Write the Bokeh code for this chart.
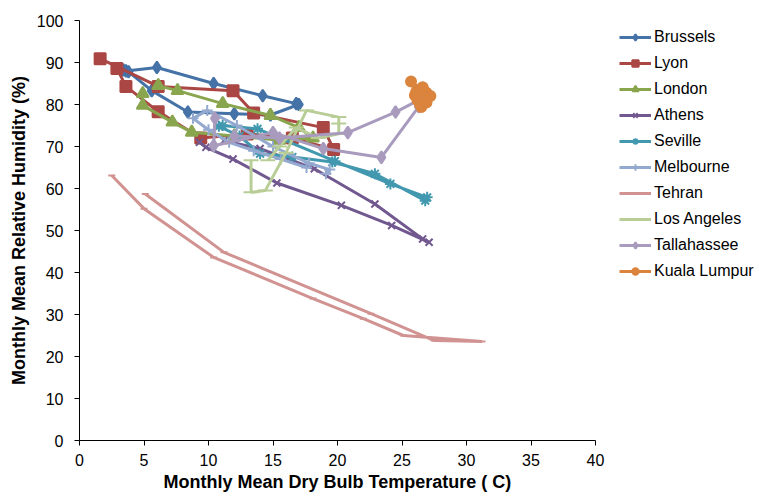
from bokeh.plotting import figure
from bokeh.models import Legend, LegendItem, Range1d, FixedTicker, Title
from bokeh.embed import file_html
from bokeh.resources import INLINE

# Monthly mean dry bulb temperature (C) and relative humidity (%), Jan..Dec
brussels_t = [3.4, 3.8, 5.6, 8.4, 12.0, 14.8, 17.0, 16.8, 14.2, 10.4, 6.0, 3.6]
brussels_rh = [88.2, 87.8, 83.3, 78.2, 77.8, 77.5, 80.0, 80.2, 82.1, 85.0, 88.8, 88.0]

lyon_t = [2.9, 3.6, 6.1, 9.4, 13.0, 16.5, 19.7, 18.9, 13.5, 11.9, 6.1, 1.6]
lyon_rh = [88.6, 84.3, 78.3, 72.0, 73.0, 72.0, 69.3, 74.5, 78.0, 83.3, 84.3, 90.9]

london_t = [4.9, 4.9, 7.2, 8.7, 12.0, 15.5, 18.1, 17.0, 14.8, 11.1, 7.6, 6.1]
london_rh = [82.6, 79.8, 75.8, 73.4, 72.5, 71.5, 72.0, 74.5, 77.4, 80.2, 83.3, 84.5]

athens_t = [9.3, 9.8, 11.9, 15.3, 20.3, 24.2, 27.1, 26.6, 22.9, 18.2, 14.0, 11.2]
athens_rh = [71.0, 69.8, 67.0, 61.3, 56.0, 51.2, 47.2, 48.0, 56.3, 64.7, 69.5, 71.4]

seville_t = [10.8, 12.4, 14.0, 16.5, 19.6, 22.9, 26.8, 26.95, 24.1, 19.8, 13.8, 11.1]
seville_rh = [74.8, 72.5, 68.3, 67.5, 66.3, 63.5, 57.1, 57.9, 61.1, 66.5, 74.2, 75.0]

melbourne_t = [19.1, 19.4, 17.8, 15.0, 12.2, 9.9, 8.8, 10.0, 11.6, 13.5, 15.6, 17.6]
melbourne_rh = [63.5, 64.5, 66.0, 70.0, 75.0, 78.6, 76.7, 74.0, 71.0, 69.0, 67.0, 65.0]

tehran_t = [2.5, 5.0, 10.4, 18.1, 22.0, 25.1, 31.2, 29.5, 27.5, 22.6, 11.2, 5.1]
tehran_rh = [63.1, 55.2, 43.6, 33.8, 29.0, 25.0, 23.6, 23.7, 23.8, 30.2, 44.8, 58.7]

la_t = [13.3, 13.3, 14.4, 16.0, 17.6, 20.1, 20.1, 20.1, 18.5, 16.8, 15.5, 14.6]
la_rh = [66.7, 59.1, 59.5, 68.5, 78.6, 77.0, 75.5, 73.0, 72.0, 74.5, 70.0, 66.7]

tallahassee_t = [10.5, 10.4, 15.0, 18.9, 23.4, 26.3, 26.8, 26.6, 24.5, 20.8, 15.5, 12.0]
tallahassee_rh = [76.7, 70.2, 73.3, 69.5, 67.4, 79.5, 81.0, 81.5, 78.2, 73.3, 72.0, 72.5]

kl_t = [25.7, 26.2, 26.6, 26.9, 27.2, 26.9, 26.5, 26.4, 26.2, 26.0, 26.1, 26.6]
kl_rh = [85.5, 83.5, 84.1, 82.8, 82.0, 80.5, 79.4, 80.0, 81.0, 82.2, 83.0, 84.0]

cities = ["Brussels", "Lyon", "London", "Athens", "Seville", "Melbourne",
          "Tehran", "Los Angeles", "Tallahassee", "Kuala Lumpur"]
temps = [brussels_t, lyon_t, london_t, athens_t, seville_t, melbourne_t,
         tehran_t, la_t, tallahassee_t, kl_t]
hums = [brussels_rh, lyon_rh, london_rh, athens_rh, seville_rh, melbourne_rh,
        tehran_rh, la_rh, tallahassee_rh, kl_rh]

colors = ["#4572A7", "#AA4643", "#89A54E", "#71588F", "#4198AF",
          "#93A9CF", "#D19392", "#B9CD96", "#A99BBD", "#DB843D"]
markers = ["diamond", "square", "triangle", "x", "asterisk",
           "cross", "dash", "dash", "diamond", "circle"]
sizes = [12, 11, 12, 10, 11, 11, 7, 15, 12, 10]

x_ticks = [0, 5, 10, 15, 20, 25, 30, 35, 40]
y_ticks = [0, 10, 20, 30, 40, 50, 60, 70, 80, 90, 100]

FONT = "Liberation Sans"

# The frame runs under the legend too; the x axis itself is bounded to 0..40.
PLOT_W = 516          # pixels taken by 0..40 C
FRAME_W = 680         # frame width including the legend column
x_end = 40 * FRAME_W / PLOT_W

p = figure(width=759, height=497, output_backend="svg", toolbar_location=None,
           x_range=Range1d(0, x_end), y_range=Range1d(0, 100),
           min_border_left=79, min_border_right=0,
           min_border_top=20, min_border_bottom=57)
p.outline_line_color = None
p.grid.visible = False
p.background_fill_color = "white"
p.border_fill_color = "white"

for ax in (p.xaxis, p.yaxis):
    ax.axis_line_color = "#000000"
    ax.axis_line_width = 1
    ax.major_tick_line_color = "#000000"
    ax.major_tick_out = 5
    ax.major_tick_in = 0
    ax.minor_tick_line_color = None
    ax.major_label_text_font = FONT
    ax.major_label_text_font_size = "16px"
    ax.major_label_text_color = "#000000"
    ax.axis_label_text_font = FONT
    ax.axis_label_text_font_size = "18px"
    ax.axis_label_text_font_style = "bold"
    ax.axis_label_text_color = "#000000"

p.xaxis.bounds = (0, 40)
p.xaxis.ticker = FixedTicker(ticks=x_ticks)
p.yaxis.ticker = FixedTicker(ticks=y_ticks)
p.yaxis.axis_label = "Monthly Mean Relative Humidity (%)"
p.xaxis.major_label_standoff = 8
p.yaxis.major_label_standoff = 11
p.yaxis.axis_label_standoff = 5

# x-axis title, centred under the 0..40 span rather than the whole frame
x_title = Title(text="Monthly Mean Dry Bulb Temperature ( C)", align="left",
                offset=84, standoff=3, text_font=FONT, text_font_size="18px",
                text_font_style="bold", text_color="#000000")
p.add_layout(x_title, "below")

items = []
for name, xs, ys, c, m, s in zip(cities, temps, hums, colors, markers, sizes):
    ln = p.line(xs, ys, line_color=c, line_width=3)
    sc = p.scatter(xs, ys, marker=m, size=s, fill_color=c, line_color=c, line_width=2)
    items.append(LegendItem(label=name, renderers=[ln, sc]))

legend = Legend(items=items, location=(540, 160),
                label_text_font=FONT, label_text_font_size="16px",
                label_text_color="#000000",
                glyph_width=32, glyph_height=16, label_height=16,
                label_standoff=3, spacing=8, padding=3, margin=0,
                border_line_color=None, background_fill_alpha=0)
p.add_layout(legend)

open("out.html", "w").write(file_html(p, INLINE))
